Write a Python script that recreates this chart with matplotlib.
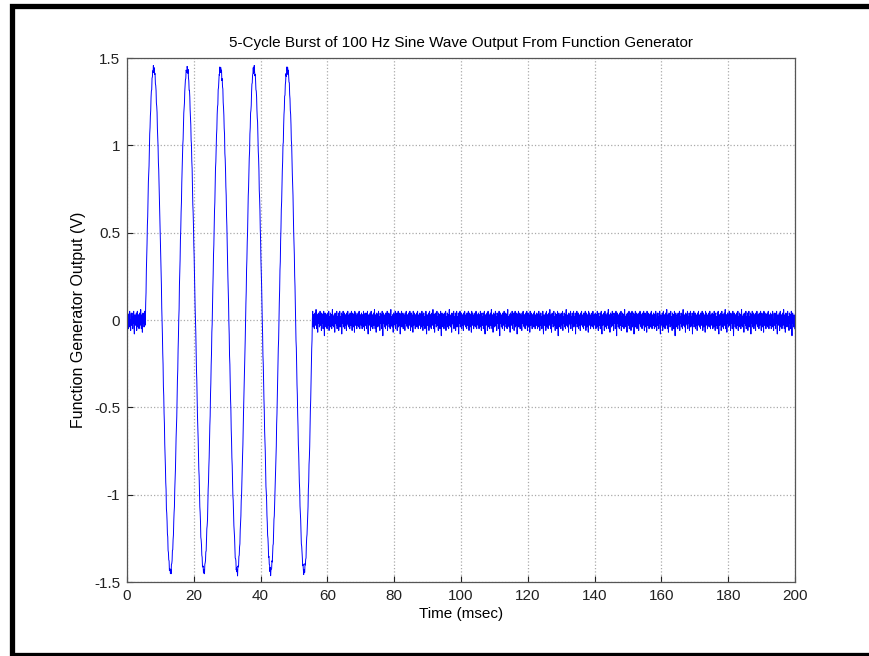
import numpy as np
from matplotlib import pyplot as plt
from matplotlib.lines import Line2D

burst_freq_hz = 100.0
burst_cycles = 5
burst_start_ms = 5.5
burst_amplitude_v = 1.44
sample_rate_hz = 10000.0
record_ms = 200.0

# measurement noise offsets (V), estimated from the flat part of the trace
noise_v = [0.02, -0.03, 0.04, -0.01, -0.05, 0.03, 0.01, -0.04, 0.05, -0.02,
           0.00, -0.06, 0.03, 0.04, -0.03, -0.01, 0.02, -0.05, 0.04, -0.02,
           0.05, -0.04, -0.08, 0.01, 0.03, -0.03, 0.02, -0.01, 0.04, -0.06,
           0.01, 0.05, -0.02, -0.04, 0.03, 0.00, -0.05, 0.02, 0.04, -0.03,
           -0.02, 0.06, -0.01, -0.05, 0.02, 0.03, -0.07, 0.01, 0.04, -0.02,
           0.03, -0.04, 0.00, 0.05, -0.03, -0.01, 0.02, -0.06, 0.04, 0.01,
           -0.02, 0.03, -0.05, 0.02, 0.05, -0.03, -0.09, 0.00, 0.04, -0.02,
           0.01, -0.04, 0.03, 0.02, -0.05, 0.04, -0.01, 0.03, -0.03, 0.05,
           -0.06, 0.02, 0.00, -0.02, 0.04, -0.04, 0.01, 0.03, -0.05, 0.02,
           0.06, -0.03, -0.01, 0.02, -0.04, 0.03, 0.01, -0.07, 0.04, -0.02,
           0.00, 0.03, -0.03, 0.05, -0.05, 0.01, 0.02, -0.02, 0.04, -0.06,
           0.03, -0.01, 0.05, -0.04, 0.00, 0.02, -0.03, 0.04, -0.08, 0.01,
           0.03, -0.02, 0.05, -0.04, 0.02, -0.01, 0.04, -0.05, 0.01, 0.03,
           -0.03, 0.02, -0.06, 0.04, 0.00, -0.02, 0.05, -0.03, 0.01, -0.04,
           0.03, 0.02, -0.05, 0.04, -0.01, -0.03, 0.02, 0.05, -0.02, -0.06,
           0.01, 0.04, -0.04, 0.03, -0.01, 0.02, -0.07, 0.05, 0.00, -0.03,
           0.04, -0.02, 0.01, -0.05, 0.03, 0.02, -0.03, 0.04, -0.04, 0.00,
           0.05, -0.01, -0.05, 0.02, 0.03]
burst_noise_scale = 0.4

x_ticks = [0, 20, 40, 60, 80, 100, 120, 140, 160, 180, 200]
y_ticks = [-1.5, -1, -0.5, 0, 0.5, 1, 1.5]
y_tick_labels = ['-1.5', '-1', '-0.5', '0', '0.5', '1', '1.5']

plt.rcParams['font.family'] = ['Liberation Sans', 'DejaVu Sans']

t_ms = np.arange(0, record_ms, 1000.0 / sample_rate_hz)
burst_end_ms = burst_start_ms + burst_cycles * 1000.0 / burst_freq_hz
in_burst = (t_ms >= burst_start_ms) & (t_ms <= burst_end_ms)
signal = np.where(in_burst,
                  burst_amplitude_v * np.sin(2 * np.pi * burst_freq_hz * (t_ms - burst_start_ms) / 1000.0),
                  0.0)
noise = np.resize(np.array(noise_v), t_ms.size)
signal = signal + np.where(in_burst, burst_noise_scale, 1.0) * noise

figure = plt.figure(figsize=(8.7, 6.56), dpi=100)
axes = figure.add_axes([127 / 870, 74 / 656, 668 / 870, 524 / 656])
axes.plot(t_ms, signal, color='#0000ff', linewidth=0.7)

axes.set_xlim(0, 200)
axes.set_ylim(-1.5, 1.5)
axes.set_xticks(x_ticks)
axes.set_yticks(y_ticks)
axes.set_yticklabels(y_tick_labels)
axes.tick_params(direction='in', length=4, labelsize=11, colors='#222222', pad=5)
axes.grid(True, linestyle=':', color='#aaaaaa', linewidth=0.9)
for spine in axes.spines.values():
    spine.set_color('#555555')
    spine.set_linewidth(0.9)

axes.set_title('5-Cycle Burst of 100 Hz Sine Wave Output From Function Generator',
               fontsize=11, pad=8)
axes.set_xlabel('Time (msec)', fontsize=11, labelpad=3)
axes.set_ylabel('Function Generator Output (V)', fontsize=11.5, labelpad=6)

# black frame around the picture (top, left, bottom)
W, H = 870.0, 656.0
frame = Line2D([1.0, 12.5 / W, 12.5 / W, 1.0],
               [1 - 5.5 / H, 1 - 5.5 / H, 1 - 654.5 / H, 1 - 654.5 / H],
               transform=figure.transFigure, color='black', linewidth=3.8,
               solid_joinstyle='miter')
figure.add_artist(frame)

figure.savefig('out.png', dpi=100)
